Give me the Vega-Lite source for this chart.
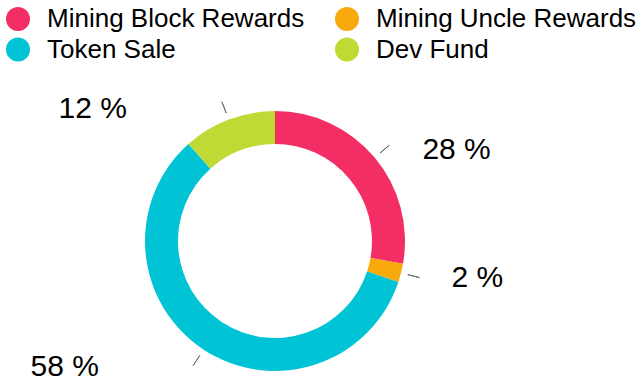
{
  "$schema": "https://vega.github.io/schema/vega-lite/v6.json",
  "width": 550,
  "height": 296,
  "autosize": {"type": "none"},
  "padding": {"left": 0, "top": 93, "right": 93, "bottom": 0},
  "background": "white",
  "config": {"view": {"stroke": null}, "font": "Liberation Sans"},
  "data": {
    "values": [
      {"category": "Mining Block Rewards", "value": 27.8, "label": "28 %", "rank": 1},
      {"category": "Mining Uncle Rewards", "value": 2.3, "label": "2 %", "rank": 2},
      {"category": "Token Sale", "value": 58.3, "label": "58 %", "rank": 3},
      {"category": "Dev Fund", "value": 11.6, "label": "12 %", "rank": 4}
    ]
  },
  "transform": [
    {"stack": "value", "groupby": [], "sort": [{"field": "rank", "order": "ascending"}], "as": ["v0", "v1"]},
    {"fold": ["v0", "v1"], "as": ["edge", "pos"]},
    {"aggregate": [{"op": "mean", "field": "pos", "as": "mid"}], "groupby": ["category", "value", "label", "rank"]}
  ],
  "layer": [
    {
      "mark": {"type": "arc", "innerRadius": 97, "outerRadius": 130},
      "encoding": {
        "theta": {"field": "value", "type": "quantitative", "stack": true},
        "order": {"field": "rank", "type": "quantitative"},
        "color": {
          "field": "category",
          "type": "nominal",
          "scale": {
            "domain": ["Mining Block Rewards", "Token Sale", "Mining Uncle Rewards", "Dev Fund"],
            "range": ["#f32e64", "#00c4d6", "#f8a90b", "#bfd935"]
          },
          "legend": {
            "orient": "none",
            "legendX": 5,
            "legendY": -87,
            "columns": 2,
            "title": null,
            "symbolType": "circle",
            "symbolSize": 576,
            "symbolStrokeWidth": 0,
            "symbolOpacity": 1,
            "labelFontSize": 26,
            "labelFont": "Liberation Sans",
            "labelColor": "#000000",
            "labelOffset": 16,
            "labelLimit": 400,
            "columnPadding": 29,
            "rowPadding": 4.5,
            "padding": 0
          }
        }
      }
    },
    {
      "mark": {"type": "arc", "innerRadius": 137, "outerRadius": 149, "filled": false, "stroke": "#6e6e6e", "strokeWidth": 1},
      "encoding": {
        "theta": {"field": "mid", "type": "quantitative"},
        "theta2": {"field": "mid"}
      }
    },
    {
      "transform": [{"filter": "datum.mid < 50"}],
      "mark": {"type": "text", "align": "left", "baseline": "middle", "radius": 144, "dx": 37, "dy": 1.5, "fontSize": 30, "font": "Liberation Sans", "color": "#000000"},
      "encoding": {
        "theta": {"field": "mid", "type": "quantitative"},
        "text": {"field": "label"}
      }
    },
    {
      "transform": [{"filter": "datum.mid >= 50"}],
      "mark": {"type": "text", "align": "right", "baseline": "middle", "radius": 146, "dx": -96, "dy": 4, "fontSize": 30, "font": "Liberation Sans", "color": "#000000"},
      "encoding": {
        "theta": {"field": "mid", "type": "quantitative"},
        "text": {"field": "label"}
      }
    }
  ]
}
